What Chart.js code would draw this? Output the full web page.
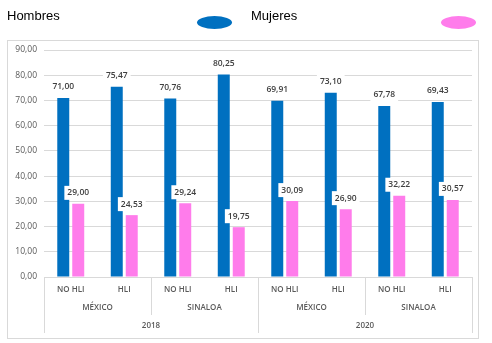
<!DOCTYPE html>
<html>
<head>
<meta charset="utf-8">
<script src="https://cdn.jsdelivr.net/npm/chart.js@4.4.0/dist/chart.umd.min.js"></script>
<style>
  body { margin: 0; background: #fff; }
  #wrap { position: relative; width: 492px; height: 343px; }
  .lg { position: absolute; font-family: "Liberation Sans", Arial, sans-serif; font-size: 13px; color: #000; }
  .dot { position: absolute; width: 35px; height: 13px; border-radius: 50%; }
</style>
</head>
<body>
<div id="wrap">
  <canvas id="chart" width="492" height="343"></canvas>
  <div class="lg" style="left:7px; top:8px;">Hombres</div>
  <div class="dot" style="left:197px; top:16px; background:#0070C0;"></div>
  <div class="lg" style="left:251px; top:8px;">Mujeres</div>
  <div class="dot" style="left:441px; top:16px; background:#FF7CEB;"></div>
</div>
<script>
// categorias (tres niveles)
const labels = ["NO HLI", "HLI", "NO HLI", "HLI", "NO HLI", "HLI", "NO HLI", "HLI"];
const regions = ["MÉXICO", "SINALOA", "MÉXICO", "SINALOA"];
const years = ["2018", "2020"];

// series
const hombres = [71.00, 75.47, 70.76, 80.25, 69.91, 73.10, 67.78, 69.43];
const mujeres = [29.00, 24.53, 29.24, 19.75, 30.09, 26.90, 32.22, 30.57];

const fmt = (v) => v.toFixed(2).replace(".", ",");
const FONT = "'Open Sans', sans-serif";
const GRID = "#d9d9d9";

// etiquetas de datos con fondo blanco
const valueLabels = {
  id: "valueLabels",
  afterDatasetsDraw(chart) {
    const ctx = chart.ctx;
    ctx.save();
    ctx.font = "600 8.5px " + FONT;
    ctx.textAlign = "center";
    ctx.textBaseline = "middle";
    chart.data.datasets.forEach((ds, i) => {
      chart.getDatasetMeta(i).data.forEach((bar, j) => {
        const txt = fmt(ds.data[j]);
        const w = ctx.measureText(txt).width + 6;
        const y = bar.y - 11;
        ctx.fillStyle = "#fff";
        ctx.fillRect(bar.x - w / 2, y - 7, w, 14);
        ctx.fillStyle = "#404040";
        ctx.fillText(txt, bar.x, y);
      });
    });
    ctx.restore();
  }
};

// ejes agrupados y marco
const groupAxis = {
  id: "groupAxis",
  afterDraw(chart) {
    const ctx = chart.ctx;
    const xs = chart.scales.x;
    const bottom = chart.chartArea.bottom;
    const px = (v) => xs.getPixelForValue(v);
    ctx.save();
    ctx.strokeStyle = GRID;
    ctx.lineWidth = 1;
    // separadores
    for (let k = 0; k <= labels.length; k += 2) {
      const x = Math.round(px(k - 0.5)) + 0.5;
      const len = (k % 4 === 0) ? 56 : 38;
      ctx.beginPath();
      ctx.moveTo(x, bottom);
      ctx.lineTo(x, bottom + len);
      ctx.stroke();
    }
    // marco exterior
    ctx.strokeRect(7.5, 40.5, 471, 298);
    ctx.font = "600 8px " + FONT;
    ctx.fillStyle = "#595959";
    ctx.textAlign = "center";
    ctx.textBaseline = "middle";
    regions.forEach((r, i) => {
      ctx.fillText(r, (px(2 * i) + px(2 * i + 1)) / 2, bottom + 31);
    });
    years.forEach((y, i) => {
      ctx.fillText(y, (px(4 * i) + px(4 * i + 3)) / 2, bottom + 49);
    });
    ctx.restore();
  }
};

new Chart(document.getElementById("chart"), {
  type: "bar",
  data: {
    labels: labels,
    datasets: [
      { label: "Hombres", data: hombres, backgroundColor: "#0070C0" },
      { label: "Mujeres", data: mujeres, backgroundColor: "#FF7CEB" }
    ]
  },
  options: {
    responsive: false,
    animation: false,
    events: [],
    categoryPercentage: 0.56,
    barPercentage: 0.8,
    layout: { padding: { top: 50, left: 7, right: 20, bottom: 5 } },
    plugins: { legend: { display: false }, tooltip: { enabled: false } },
    scales: {
      x: {
        grid: { display: false, drawTicks: false },
        border: { display: false },
        ticks: {
          autoSkip: false, maxRotation: 0, padding: 8,
          color: "#595959", font: { family: FONT, size: 8, weight: "600" }
        },
        afterFit(s) { s.height = 61; }
      },
      y: {
        min: 0, max: 90,
        grid: { color: GRID, drawTicks: false },
        border: { display: false },
        ticks: {
          stepSize: 10, padding: 7, color: "#595959",
          font: { family: FONT, size: 8.5 },
          callback: (v) => fmt(v)
        },
        afterFit(s) { s.width = 37; }
      }
    }
  },
  plugins: [valueLabels, groupAxis]
});
</script>
</body>
</html>
